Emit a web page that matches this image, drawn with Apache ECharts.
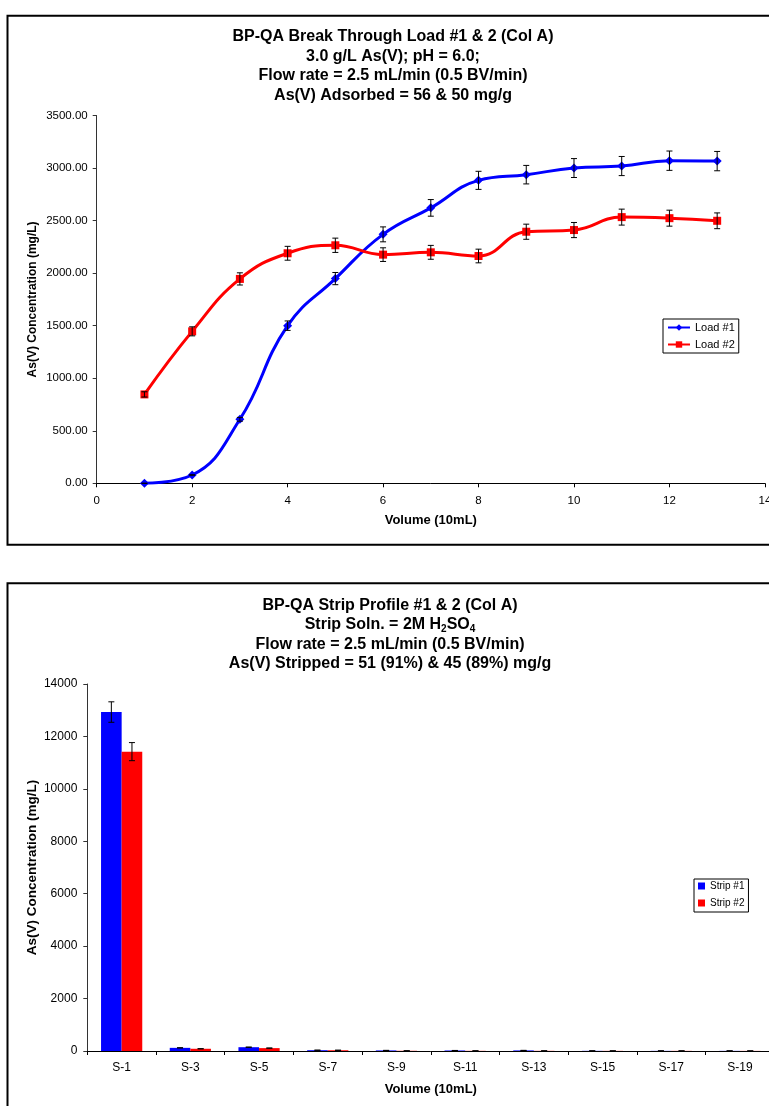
<!DOCTYPE html>
<html>
<head>
<meta charset="utf-8">
<script src="https://cdn.jsdelivr.net/npm/echarts@6/dist/echarts.min.js"></script>
<style>
  html, body { margin: 0; padding: 0; background: #fff; overflow: hidden; }
  #chart { width: 800px; height: 1106px; }
</style>
</head>
<body>
<div id="chart"></div>
<script>
// break through load (top chart)
const volume = [1, 2, 3, 4, 5, 6, 7, 8, 9, 10, 11, 12, 13]
const load1 = [0, 79, 609, 1500, 1948, 2369, 2621, 2883, 2937, 3000, 3019, 3070, 3066]
const load2 = [846, 1446, 1945, 2189, 2265, 2176, 2198, 2163, 2394, 2410, 2533, 2523, 2498]
const load1Err = [0, 3, 18, 45, 58, 71, 79, 86, 88, 90, 91, 92, 92]
const load2Err = [25, 43, 58, 66, 68, 65, 66, 65, 72, 72, 76, 76, 75]

// strip profile (bottom chart)
const stripCats = ['S-1', 'S-3', 'S-5', 'S-7', 'S-9', 'S-11', 'S-13', 'S-15', 'S-17', 'S-19']
const strip1 = [12930, 120, 145, 30, 22, 20, 22, 6, 5, 5]
const strip2 = [11420, 85, 110, 28, 8, 6, 6, 5, 5, 4]
const strip1Err = [390, 4, 5, 1, 1, 1, 1, 0, 0, 0]
const strip2Err = [345, 3, 4, 1, 0, 0, 0, 0, 0, 0]

const font = '"Liberation Sans", Arial, sans-serif'
const blue = '#0000FF'
const red = '#FF0000'

const chart = echarts.init(document.getElementById('chart'))

// I-beam error bar; offset moves it onto one bar of a grouped pair
const errorBar = (offsetRatio) => (params, api) => {
  const x = api.value(0)
  const y = api.value(1)
  const e = api.value(2)
  const hi = api.coord([x, y + e])
  const lo = api.coord([x, y - e])
  const dx = offsetRatio ? api.size([1, 0])[0] * offsetRatio : 0
  const cx = hi[0] + dx
  const cap = 3
  const style = { stroke: '#000', lineWidth: 1 }
  return {
    type: 'group',
    children: [
      { type: 'line', shape: { x1: cx, y1: hi[1], x2: cx, y2: lo[1] }, style },
      { type: 'line', shape: { x1: cx - cap, y1: hi[1], x2: cx + cap, y2: hi[1] }, style },
      { type: 'line', shape: { x1: cx - cap, y1: lo[1], x2: cx + cap, y2: lo[1] }, style },
    ],
  }
}

const axisText = { color: '#000', fontFamily: font }
const nameText = { color: '#000', fontFamily: font, fontWeight: 'bold' }
const titleText = {
  color: '#000',
  fontFamily: font,
  fontWeight: 'bold',
  fontSize: 16,
  lineHeight: 19.5,
  rich: {
    sub: { color: '#000', fontFamily: font, fontWeight: 'bold', fontSize: 10, lineHeight: 13, verticalAlign: 'bottom' },
  },
}

const option = {
  animation: false,
  backgroundColor: '#fff',
  graphic: [
    { type: 'rect', shape: { x: 7.5, y: 15.7, width: 790, height: 529 }, style: { fill: 'none', stroke: '#000', lineWidth: 2 }, z: 0 },
    { type: 'rect', shape: { x: 7.5, y: 583.3, width: 790, height: 540 }, style: { fill: 'none', stroke: '#000', lineWidth: 2 }, z: 0 },
  ],
  title: [
    {
      text: 'BP-QA Break Through Load #1 & 2 (Col A)\n3.0 g/L As(V); pH = 6.0;\nFlow rate = 2.5 mL/min (0.5 BV/min)\nAs(V) Adsorbed = 56 & 50 mg/g',
      left: 393,
      top: 27,
      padding: 0,
      textAlign: 'center',
      textStyle: titleText,
    },
    {
      text: 'BP-QA Strip Profile #1 & 2 (Col A)\nStrip Soln. = 2M H{sub|2}SO{sub|4}\nFlow rate = 2.5 mL/min (0.5 BV/min)\nAs(V) Stripped = 51 (91%) & 45 (89%) mg/g',
      left: 390,
      top: 595.5,
      padding: 0,
      textAlign: 'center',
      textStyle: titleText,
    },
  ],
  legend: [
    {
      data: ['Load #1', 'Load #2'],
      orient: 'vertical',
      left: 663,
      top: 319,
      padding: [3, 4, 3, 4],
      itemGap: 6,
      itemWidth: 22,
      itemHeight: 8,
      borderColor: '#000',
      borderWidth: 1,
      backgroundColor: '#fff',
      textStyle: { ...axisText, fontSize: 11 },
    },
    {
      data: ['Strip #1', 'Strip #2'],
      orient: 'vertical',
      left: 694,
      top: 879,
      padding: [2, 4, 4, 4],
      itemGap: 7,
      itemWidth: 7,
      itemHeight: 7,
      icon: 'rect',
      borderColor: '#000',
      borderWidth: 1,
      backgroundColor: '#fff',
      textStyle: { ...axisText, fontSize: 10 },
    },
  ],
  grid: [
    { left: 96.7, top: 115.5, width: 668.2, height: 367.8 },
    { left: 87.3, top: 684, width: 687, height: 367 },
  ],
  xAxis: [
    {
      gridIndex: 0,
      type: 'value',
      min: 0,
      max: 14,
      interval: 2,
      name: 'Volume (10mL)',
      nameLocation: 'middle',
      nameGap: 31,
      nameMoveOverlap: false,
      nameTextStyle: { ...nameText, fontSize: 13 },
      axisLine: { show: true, lineStyle: { color: '#000', width: 1 } },
      axisTick: { show: true, length: 4, lineStyle: { color: '#000' } },
      axisLabel: { ...axisText, fontSize: 11.5, margin: 12 },
      splitLine: { show: false },
    },
    {
      gridIndex: 1,
      type: 'category',
      data: stripCats,
      name: 'Volume (10mL)',
      nameLocation: 'middle',
      nameGap: 32,
      nameMoveOverlap: false,
      nameTextStyle: { ...nameText, fontSize: 13 },
      axisLine: { show: true, lineStyle: { color: '#000', width: 1 } },
      axisTick: { show: true, length: 4, lineStyle: { color: '#000' } },
      axisLabel: { ...axisText, fontSize: 12, margin: 11, interval: 0 },
      splitLine: { show: false },
    },
  ],
  yAxis: [
    {
      gridIndex: 0,
      type: 'value',
      min: 0,
      max: 3500,
      interval: 500,
      name: 'As(V) Concentration (mg/L)',
      nameLocation: 'middle',
      nameRotate: 90,
      nameGap: 58,
      nameMoveOverlap: false,
      nameTextStyle: { ...nameText, fontSize: 12 },
      axisLine: { show: true, lineStyle: { color: '#333', width: 1 } },
      axisTick: { show: true, length: 4, lineStyle: { color: '#333' } },
      axisLabel: { ...axisText, fontSize: 11.5, margin: 9, formatter: (v) => v.toFixed(2) },
      splitLine: { show: false },
    },
    {
      gridIndex: 1,
      type: 'value',
      min: 0,
      max: 14000,
      interval: 2000,
      name: 'As(V) Concentration (mg/L)',
      nameLocation: 'middle',
      nameRotate: 90,
      nameGap: 48,
      nameMoveOverlap: false,
      nameTextStyle: { ...nameText, fontSize: 13.5 },
      axisLine: { show: true, lineStyle: { color: '#333', width: 1 } },
      axisTick: { show: true, length: 4, lineStyle: { color: '#333' } },
      axisLabel: { ...axisText, fontSize: 12, margin: 10, formatter: (v) => String(v) },
      splitLine: { show: false },
    },
  ],
  series: [
    {
      name: 'Load #1',
      type: 'line',
      xAxisIndex: 0,
      yAxisIndex: 0,
      data: volume.map((v, i) => [v, load1[i]]),
      smooth: 0.45,
      symbol: 'diamond',
      symbolSize: 9,
      lineStyle: { color: blue, width: 3 },
      itemStyle: { color: blue },
      z: 3,
    },
    {
      name: 'Load #2',
      type: 'line',
      xAxisIndex: 0,
      yAxisIndex: 0,
      data: volume.map((v, i) => [v, load2[i]]),
      smooth: 0.45,
      symbol: 'rect',
      symbolSize: 8,
      lineStyle: { color: red, width: 3 },
      itemStyle: { color: red },
      z: 3,
    },
    {
      name: 'err-load1',
      type: 'custom',
      xAxisIndex: 0,
      yAxisIndex: 0,
      renderItem: errorBar(0),
      data: volume.map((v, i) => [v, load1[i], load1Err[i]]),
      encode: { x: 0, y: 1 },
      z: 5,
    },
    {
      name: 'err-load2',
      type: 'custom',
      xAxisIndex: 0,
      yAxisIndex: 0,
      renderItem: errorBar(0),
      data: volume.map((v, i) => [v, load2[i], load2Err[i]]),
      encode: { x: 0, y: 1 },
      z: 5,
    },
    {
      name: 'Strip #1',
      type: 'bar',
      xAxisIndex: 1,
      yAxisIndex: 1,
      data: strip1,
      barWidth: '30%',
      barGap: '0%',
      itemStyle: { color: blue },
    },
    {
      name: 'Strip #2',
      type: 'bar',
      xAxisIndex: 1,
      yAxisIndex: 1,
      data: strip2,
      barWidth: '30%',
      barGap: '0%',
      itemStyle: { color: red },
    },
    {
      name: 'err-strip1',
      type: 'custom',
      xAxisIndex: 1,
      yAxisIndex: 1,
      renderItem: errorBar(-0.15),
      data: stripCats.map((c, i) => [i, strip1[i], strip1Err[i]]),
      encode: { x: 0, y: 1 },
      z: 5,
    },
    {
      name: 'err-strip2',
      type: 'custom',
      xAxisIndex: 1,
      yAxisIndex: 1,
      renderItem: errorBar(0.15),
      data: stripCats.map((c, i) => [i, strip2[i], strip2Err[i]]),
      encode: { x: 0, y: 1 },
      z: 5,
    },
  ],
}

chart.setOption(option)

window.addEventListener('resize', () => {
  chart.resize()
})
</script>
</body>
</html>
